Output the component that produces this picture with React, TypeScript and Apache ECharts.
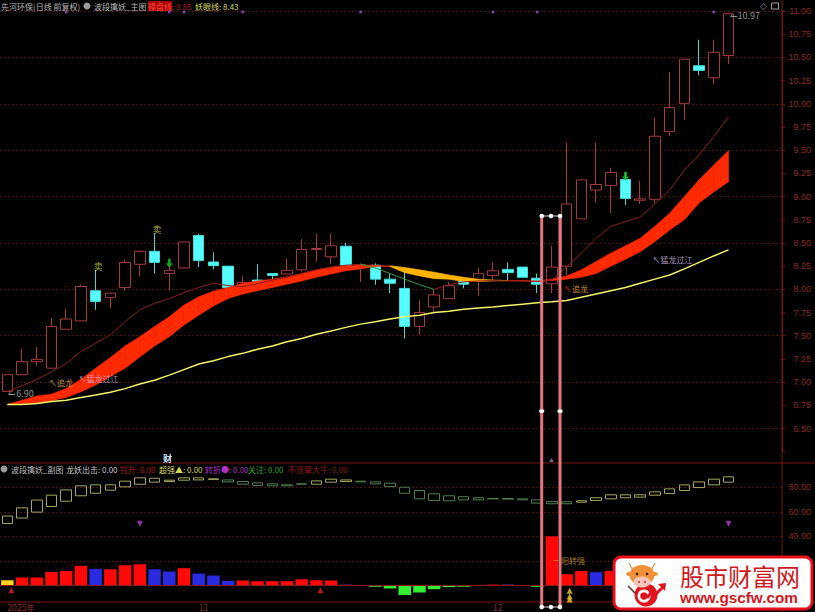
import React, { useEffect, useRef } from "react";
import * as echarts from "echarts";

const stockTitle = "先河环保(日线 前复权)";
const mainName = "波段擒妖_主图";
const subName = "波段擒妖_副图";

const dayLabels = Array.from({ length: 53 }, (_, i) =>
  i === 0 ? "2025年" : i === 13 ? "11" : i === 33 ? "12" : ""
);

const opens = [6.9,7.08,7.22,7.15,7.57,7.66,7.985,7.91,8.02,8.27,8.41,8.17,8.23,8.58,8.295,8.25,8.04,8.1,8.17,8.165,8.21,8.43,8.35,8.465,8.26,8.26,8.11,8.01,7.6,7.81,7.9,8.09,8.09,8.15,8.215,8.24,8.12,8.06,8.25,8.76,9.07,9.12,9.185,8.96,8.97,9.7,10.005,10.41,10.28,10.52];
const closes = [7.08,7.22,7.245,7.6,7.68,8.03,7.87,7.96,8.29,8.41,8.29,8.205,8.51,8.31,8.255,8.02,8.075,8.08,8.15,8.205,8.43,8.44,8.47,8.255,8.265,8.11,8.065,7.6,7.75,7.94,8.04,8.055,8.17,8.2,8.18,8.13,8.055,8.24,8.92,9.18,9.13,9.26,8.98,8.975,9.65,9.96,10.48,10.36,10.555,10.97];
const lows = [6.9,7.08,7.18,7.15,7.57,7.66,7.78,7.795,7.985,8.14,8.17,7.985,8.23,8.24,8.215,8.02,8.02,8.08,8.1,8.165,8.19,8.3,8.27,8.255,8.08,8.05,7.96,7.47,7.51,7.75,7.9,8.01,7.93,8.1,8.1,8.13,7.96,7.96,8.15,8.76,8.94,8.82,8.91,8.92,8.93,9.655,9.83,10.31,10.21,10.43];
const highs = [7.08,7.36,7.38,7.69,7.79,8.05,8.21,7.96,8.32,8.42,8.6,8.26,8.51,8.6,8.4,8.25,8.14,8.27,8.17,8.33,8.54,8.6,8.6,8.5,8.28,8.28,8.17,8.19,7.885,8,8.08,8.09,8.23,8.29,8.29,8.24,8.17,8.47,9.58,9.18,9.58,9.31,9.26,9.17,9.85,10.34,10.48,10.69,10.69,10.97];

const bandFast = [6.76,6.805,6.85,6.87,6.93,7.03,7.15,7.265,7.39,7.49,7.6,7.705,7.83,7.92,7.98,8.02,8.065,8.09,8.11,8.135,8.17,8.21,8.24,8.255,8.26,8.26,8.245,8.18,8.145,8.115,8.11,8.085,8.085,8.09,8.095,8.095,8.09,8.11,8.145,8.21,8.3,8.39,8.47,8.55,8.68,8.82,9,9.18,9.34,9.495];
const bandSlow = [6.76,6.77,6.77,6.8,6.835,6.895,6.97,7.06,7.15,7.27,7.39,7.49,7.615,7.72,7.82,7.9,7.95,7.985,8.02,8.055,8.09,8.13,8.165,8.2,8.22,8.245,8.255,8.235,8.21,8.185,8.155,8.13,8.11,8.1,8.095,8.09,8.085,8.095,8.11,8.13,8.17,8.25,8.325,8.405,8.515,8.64,8.75,8.93,9.05,9.16];
const yellowLine = [6.76,6.76,6.77,6.79,6.805,6.835,6.86,6.89,6.93,6.98,7.02,7.075,7.135,7.195,7.23,7.275,7.31,7.355,7.39,7.435,7.47,7.515,7.55,7.59,7.625,7.65,7.68,7.705,7.72,7.75,7.765,7.785,7.8,7.81,7.825,7.84,7.855,7.865,7.88,7.915,7.95,7.985,8.02,8.065,8.11,8.155,8.22,8.29,8.36,8.425];
const traderLine = [6.9,6.96,7.03,7.11,7.2,7.33,7.42,7.51,7.65,7.78,7.85,7.9,7.965,8.02,8.065,8.04,8.03,8.06,8.1,8.13,8.17,8.21,8.24,8.26,8.27,null,null,null,null,8.0,8.05,8.08,8.09,8.095,8.09,8.09,8.085,8.1,8.245,8.39,8.55,8.68,8.73,8.78,8.92,9.07,9.285,9.45,9.645,9.86];
const traderWeak = [null,null,null,null,null,null,null,null,null,null,null,null,null,null,null,null,null,null,null,null,null,null,null,null,8.27,8.23,8.17,8.11,8.05,8.0,null,null,null,null,null,null,null,null,null,null,null,null,null,null,null,null,null,null,null,null];

const topDots = [4,11,12,16,24,33,36,48];
const topDotValue = 10.99;

const boxTop = [56.5,63.2,69.5,73.5,77.8,81.1,81.9,81.9,84.9,87.6,87.3,85.7,87.6,87.6,86.8,85.9,84.6,83.5,82.7,81.9,82.7,85.1,86.5,85.9,84.9,84.3,83.2,80,77.3,74.6,73,72.2,71.4,70.8,70.8,70.5,69.7,68.4,68.1,68.9,71.4,73.8,73.8,73.8,76.2,78.6,81.9,84.3,86.5,88.4];
const boxBottom = [50.5,54.9,59.7,64.3,68.6,73,75.1,77.6,80.3,82.4,84.1,84.6,85.7,85.9,86.2,84.3,82.4,81.4,81.1,81.1,82.4,82.4,84.1,84.6,84.3,82.7,80.5,75.1,70.5,69.2,68.9,69.7,69.7,70.5,70.3,69.7,67,66.5,66.5,67.8,69.2,70.5,71.4,71.9,73.5,74.9,77.3,79.7,81.9,84.1];
const boxFalling = [15,16,17,18,19,20,24,25,26,27,28,29,30,31,32,33,34,35,36,37,38];

const barValues = [4.3,6.5,6.5,11,11.9,16,13.5,13.2,16.5,17.3,13.2,11.4,14.1,9.7,8.1,3.8,4.1,3.5,3.5,3.5,5.1,4.3,4.1,0.8,0,-1,-2.4,-7.8,-5.7,-3,-1.3,-1,0.5,0.8,0.8,0,-1,40,9.2,11.9,10.8,11.9];
const barStates = ["start","up","up","up","up","up","calm","up","up","up","calm","calm","up","calm","calm","calm","up","up","up","up","up","up","up","fade","fade","down","down","down","down","down","down","down","up","up","fade","fade","down","up","up","up","calm","up"];
const barPalette: Record<string, string> = { start: "#ffd21e", up: "#ff0808", calm: "#2a2ae0", fade: "#7a2a9a", down: "#33f033" };

const mainTicks = { min: 6.25, max: 11, step: 0.25 };
const subTicks = { min: -20, max: 100, step: 20 };
const pricePlot = { top: 11, height: 440.7 };
const subPlot = { top: 462.6, height: 147.5 };
const bandPitch = 14.77;

const cjk = '8px "Noto Sans CJK SC"';
const T = (text: string, x: number, y: number, fill: string, font = cjk, z = 20) => ({
  type: "text", z, silent: true,
  style: { text, x, y, fill, font, align: "left", verticalAlign: "middle" },
});
const L = (x1: number, y1: number, x2: number, y2: number, stroke: string, lineWidth = 1, z = 1) => ({
  type: "line", z, silent: true, shape: { x1, y1, x2, y2 }, style: { stroke, lineWidth },
});
const dot = (cx: number, cy: number, r: number, fill: string, z = 22) => ({ type: "circle", z, silent: true, shape: { cx, cy, r }, style: { fill } });

function chrome(): any[] {
  const g = "#b9b9b9";
  const pink = "#e4787c";
  return [
    L(782, 0, 782, 612, "#7a1414"),
    L(0, 463, 815, 463, "#7a1414"),
    L(0, 602, 815, 602, "#7a1414"),
    T(stockTitle, 1, 6, g),
    dot(87, 6, 3.5, "#9a9a9a"),
    T(mainName, 94, 6, g),
    { type: "rect", z: 19, silent: true, shape: { x: 148, y: 1, width: 24, height: 10 }, style: { fill: "#a80000" } },
    T("操盘线", 148, 6, "#ff4a4a"),
    T(": 9.85", 172, 6, "#a81c1c"),
    T("妖眼线: 8.43", 195, 6, "#d8d860"),
    T("◇", 760, 6, "#8a8a8a", "9px sans-serif"),
    { type: "rect", z: 20, silent: true, shape: { x: 771.5, y: 3, width: 7, height: 6 }, style: { fill: "none", stroke: "#a0a0a0", lineWidth: 1 } },
    T("财", 163, 458, "#cfe8ff", 'bold 9px "Noto Sans CJK SC"'),
    dot(4, 469, 3.5, "#9a9a9a"),
    T(subName, 11, 469, g),
    T("龙妖出击: 0.00", 66, 469, "#c8c8c8"),
    T("拉升: 0.00", 120, 469, "#a81c1c"),
    T("超强▲: 0.00", 159, 469, "#d8d860"),
    T("转折●: 0.00", 205, 469, "#b030c0"),
    T("关注: 0.00", 248, 469, "#2ca02c"),
    T("不涨擎大牛: 0.00", 288, 469, "#8c1c1c"),
    T("▲", 548, 459, "#707090", "7px sans-serif"),
    L(541.7, 216, 541.7, 607, pink, 3, 21),
    L(560, 216, 560, 607, pink, 3, 21),
    L(541.7, 216, 560, 216, "#f0d0d0", 1, 21),
    L(541.7, 607, 560, 607, "#f0d0d0", 1, 21),
    ...[541.7, 551, 560].flatMap((x) => [dot(x, 216, 2.3, "#fff"), dot(x, 607, 2.3, "#fff")]),
    ...[541.7, 560].map((x) => ({ type: "rect", z: 22, silent: true, shape: { x: x - 2.5, y: 409.5, width: 5, height: 3.2, r: 1 }, style: { fill: "#fff" } })),
    // watermark
    { type: "rect", z: 30, silent: true, shape: { x: 614, y: 557, width: 198, height: 52, r: 7 }, style: { fill: "#fff", stroke: "#e4101c", lineWidth: 3 } },
    { type: "line", z: 31, silent: true, shape: { x1: 628, y1: 586, x2: 636, y2: 594 }, style: { stroke: "#4a2a20", lineWidth: 1.5 } },
    { type: "polygon", z: 31, silent: true, shape: { points: [[629, 563], [633, 572], [639, 568], [632, 568]] }, style: { fill: "#f4d58a", stroke: "#a8742c", lineWidth: 0.5 } },
    { type: "polygon", z: 31, silent: true, shape: { points: [[655, 563], [651, 572], [645, 568], [652, 568]] }, style: { fill: "#f4d58a", stroke: "#a8742c", lineWidth: 0.5 } },
    { type: "ellipse", z: 32, silent: true, shape: { cx: 642, cy: 575, rx: 12.5, ry: 10 }, style: { fill: "#f09038" } },
    { type: "ellipse", z: 32, silent: true, shape: { cx: 630, cy: 574, rx: 4, ry: 2.2 }, style: { fill: "#f09038" } },
    { type: "ellipse", z: 32, silent: true, shape: { cx: 654, cy: 574, rx: 4, ry: 2.2 }, style: { fill: "#f09038" } },
    { type: "circle", z: 33, silent: true, shape: { cx: 646, cy: 595, r: 11.5 }, style: { fill: "#e0141c" } },
    { type: "ellipse", z: 34, silent: true, shape: { cx: 642, cy: 582, rx: 8.5, ry: 5.5 }, style: { fill: "#fbc4b8" } },
    dot(637, 574, 1.3, "#3a2010", 34),
    dot(647, 574, 1.3, "#3a2010", 34),
    dot(639, 582, 0.9, "#a03030", 35),
    dot(645, 582, 0.9, "#a03030", 35),
    { type: "ring", z: 34, silent: true, shape: { cx: 644, cy: 596, r: 6.5, r0: 3.8 }, style: { fill: "#fff" } },
    { type: "polyline", z: 35, silent: true, shape: { points: [[647, 598], [652, 591], [656, 594], [663, 587]] }, style: { stroke: "#e0141c", lineWidth: 3, fill: "none" } },
    { type: "polygon", z: 35, silent: true, shape: { points: [[658, 584], [666, 583], [665, 591]] }, style: { fill: "#e0141c" } },
    T("股市财富网", 680, 575, "#cf1820", '24px "Noto Sans CJK SC"', 36),
    T("www.gscfw.com", 680, 597, "#cf1820", 'bold 15.3px "Liberation Sans"', 36),
  ];
}

function noteSeries(points: [number, number, string][], color: string, size = 8, offset: [number, number] = [-3.5, 0]) {
  return {
    type: "scatter", xAxisIndex: 0, yAxisIndex: 0, symbolSize: 0, z: 8, silent: true, clip: false,
    data: points.map((p) => ({ value: [p[0], p[1]], label: { formatter: p[2] } })),
    label: { show: true, position: "right", distance: 1, color, fontSize: size, fontFamily: "Noto Sans CJK SC", offset,
      rich: { hot: { color: "#ff3020", fontSize: size } } },
  };
}

export default function App() {
  const ref = useRef<HTMLDivElement>(null);
  useEffect(() => {
    document.body.style.margin = "0";
    document.body.style.background = "#000";
    const chart = echarts.init(ref.current!, null, { renderer: "svg" });
    const idx = opens.map((_, i) => i);
    const dataWidth = dayLabels.length * bandPitch;
    const dataLeft = 4.6 - bandPitch / 2;
    const hiddenCat = { type: "category", data: dayLabels, show: false };
    const hiddenVal = { type: "value", show: false, min: 0, max: 1 };
    const axisColor = "#8c2a2a";
    const grid = "#4c1212";
    const arrowDown = "path://M3 0h4v6h3l-5 6-5-6h3z";

    const option: any = {
      animation: false,
      backgroundColor: "#000",
      grid: [
        { left: dataLeft, top: pricePlot.top, width: dataWidth, height: pricePlot.height },
        { left: 0, top: pricePlot.top, width: 782, height: pricePlot.height },
        { left: dataLeft, top: subPlot.top, width: dataWidth, height: subPlot.height },
        { left: 0, top: subPlot.top, width: 782, height: subPlot.height },
      ],
      xAxis: [
        { ...hiddenCat, gridIndex: 0 },
        { ...hiddenVal, gridIndex: 1 },
        {
          type: "category", data: dayLabels, gridIndex: 2,
          axisLine: { show: false }, axisTick: { show: false },
          axisLabel: { interval: 0, inside: true, margin: -1, align: "left", color: axisColor, fontSize: 8.5, fontFamily: "Noto Sans CJK SC" },
        },
        { ...hiddenVal, gridIndex: 3 },
      ],
      yAxis: [
        { type: "value", gridIndex: 0, show: false, ...mainTicks, interval: mainTicks.step },
        {
          type: "value", gridIndex: 1, position: "right", min: mainTicks.min, max: mainTicks.max, interval: mainTicks.step,
          axisLine: { show: true, onZero: false, lineStyle: { color: "#7a1414" } },
          axisTick: { show: true, length: 3, lineStyle: { color: "#7a1414" } },
          axisLabel: { margin: 29, align: "right", color: axisColor, fontSize: 9, fontFamily: "Liberation Sans",
            formatter: (v: number) => (v < 6.4 ? "" : v.toFixed(2)) },
          splitLine: { show: true, lineStyle: { type: [2, 2], width: 1, color: ["#000", grid] } },
        },
        { type: "value", gridIndex: 2, show: false, min: subTicks.min, max: subTicks.max, interval: subTicks.step },
        {
          type: "value", gridIndex: 3, position: "right", min: subTicks.min, max: subTicks.max, interval: subTicks.step,
          axisLine: { show: false },
          axisTick: { show: false },
          axisLabel: { margin: 29, align: "right", color: axisColor, fontSize: 9, fontFamily: "Liberation Sans",
            formatter: (v: number) => (v >= 40 && v <= 80 ? v.toFixed(2) : "") },
          splitLine: { show: true, lineStyle: { type: [2, 2], width: 1, color: ["#000", "#000", grid, grid, grid, grid, "#000"] } },
        },
      ],
      graphic: { elements: chrome() },
      series: [
        {
          type: "candlestick", xAxisIndex: 0, yAxisIndex: 0, barWidth: 11, z: 2,
          data: idx.map((i) => [opens[i], closes[i], lows[i], highs[i]]),
          itemStyle: { color: "#000", color0: "#55ffff", borderColor: "#a63a3c", borderColor0: "#45d8d8", borderWidth: 1 },
        },
        {
          type: "custom", xAxisIndex: 0, yAxisIndex: 0, z: 3, silent: true,
          data: idx.slice(0, -1).map((i) => [i, bandFast[i], bandSlow[i]]),
          encode: { x: 0, y: [1, 2] },
          renderItem: (_: any, api: any) => {
            const i = api.value(0);
            const a0 = api.coord([i, bandFast[i]]);
            const a1 = api.coord([i + 1, bandFast[i + 1]]);
            const b1 = api.coord([i + 1, bandSlow[i + 1]]);
            const b0 = api.coord([i, bandSlow[i]]);
            const rising = bandFast[i] >= bandSlow[i] && bandFast[i + 1] >= bandSlow[i + 1];
            const falling = bandFast[i] <= bandSlow[i] && bandFast[i + 1] <= bandSlow[i + 1] && !rising;
            const fill = falling ? "#ffb400" : "#ff2a00";
            return { type: "polygon", shape: { points: [a0, a1, b1, b0] }, style: { fill, stroke: fill, lineWidth: 0.6 } };
          },
        },
        { type: "line", xAxisIndex: 0, yAxisIndex: 0, z: 4, data: traderLine, showSymbol: false, connectNulls: false, lineStyle: { color: "#8a2020", width: 1 } },
        { type: "line", xAxisIndex: 0, yAxisIndex: 0, z: 4, data: traderWeak, showSymbol: false, lineStyle: { color: "#2f9a3f", width: 1 } },
        { type: "line", xAxisIndex: 0, yAxisIndex: 0, z: 5, data: yellowLine, showSymbol: false, lineStyle: { color: "#f4f46a", width: 1.5 } },
        { type: "scatter", xAxisIndex: 0, yAxisIndex: 0, z: 6, symbolSize: 3, clip: false, data: topDots.map((i) => [i, topDotValue]), itemStyle: { color: "#a050e0" } },
        { type: "scatter", xAxisIndex: 0, yAxisIndex: 0, z: 7, symbol: arrowDown, symbolSize: [7, 9], data: [[11, 8.28], [42, 9.22]], itemStyle: { color: "#12cc28" } },
        noteSeries([[3, 6.997, "↖追龙"], [38, 8.01, "{hot|↖}追龙"]], "#e8b040"),
        noteSeries([[5, 7.04, "↖猛龙过江"], [44, 8.32, "↖猛龙过江"]], "#d4b8e8"),
        noteSeries([[6, 8.25, "卖"], [10, 8.65, "卖"]], "#d8d840", 9, [-3, 0]),
        noteSeries([[0, 6.9, "↼6.90"], [49, 10.97, "↼10.97"]], "#b8b8b8", 9, [0, 2]),
        {
          type: "candlestick", xAxisIndex: 2, yAxisIndex: 2, barWidth: 11, z: 2,
          data: idx.map((i) => boxFalling.includes(i)
            ? [boxTop[i], boxBottom[i], boxBottom[i], boxTop[i]]
            : [boxBottom[i], boxTop[i], boxBottom[i], boxTop[i]]),
          itemStyle: { color: "transparent", color0: "transparent", borderColor: "#a6a65a", borderColor0: "#4f7f4f", borderWidth: 1 },
        },
        {
          type: "bar", xAxisIndex: 2, yAxisIndex: 2, barWidth: 12.5, z: 3,
          data: barValues.map((v, i) => ({ value: v, itemStyle: { color: barPalette[barStates[i]] } })),
          markLine: { silent: true, symbol: "none", label: { show: false }, data: [{ yAxis: 0 }], lineStyle: { type: "solid", color: "#8c1818", width: 1 } },
        },
        { type: "scatter", xAxisIndex: 2, yAxisIndex: 2, z: 6, symbol: "triangle", symbolRotate: 180, symbolSize: 6, data: [[9, 50.3], [49, 50.3]], itemStyle: { color: "#b040d0" } },
        { type: "scatter", xAxisIndex: 2, yAxisIndex: 2, z: 6, symbol: "triangle", symbolSize: 6, symbolOffset: [4, 0], data: [[0, -3.8], [21, -3.8]], itemStyle: { color: "#e02020" } },
        { type: "scatter", xAxisIndex: 2, yAxisIndex: 2, z: 6, symbol: "triangle", symbolSize: 6, symbolOffset: [3, 0], data: [[38, -4.3], [38, -9], [38, -11.4]], itemStyle: { color: "#f0d020" } },
        {
          type: "scatter", xAxisIndex: 2, yAxisIndex: 2, symbolSize: 0, z: 8, silent: true,
          data: [[37, 20.5]],
          label: { show: true, position: "right", distance: 1, formatter: "一阳转强", color: "#d0a030", fontSize: 8, fontFamily: "Noto Sans CJK SC" },
        },
      ],
    };
    chart.setOption(option);
    return () => chart.dispose();
  }, []);
  return <div ref={ref} style={{ position: "fixed", left: 0, top: 0, width: 815, height: 612, background: "#000" }} />;
}
